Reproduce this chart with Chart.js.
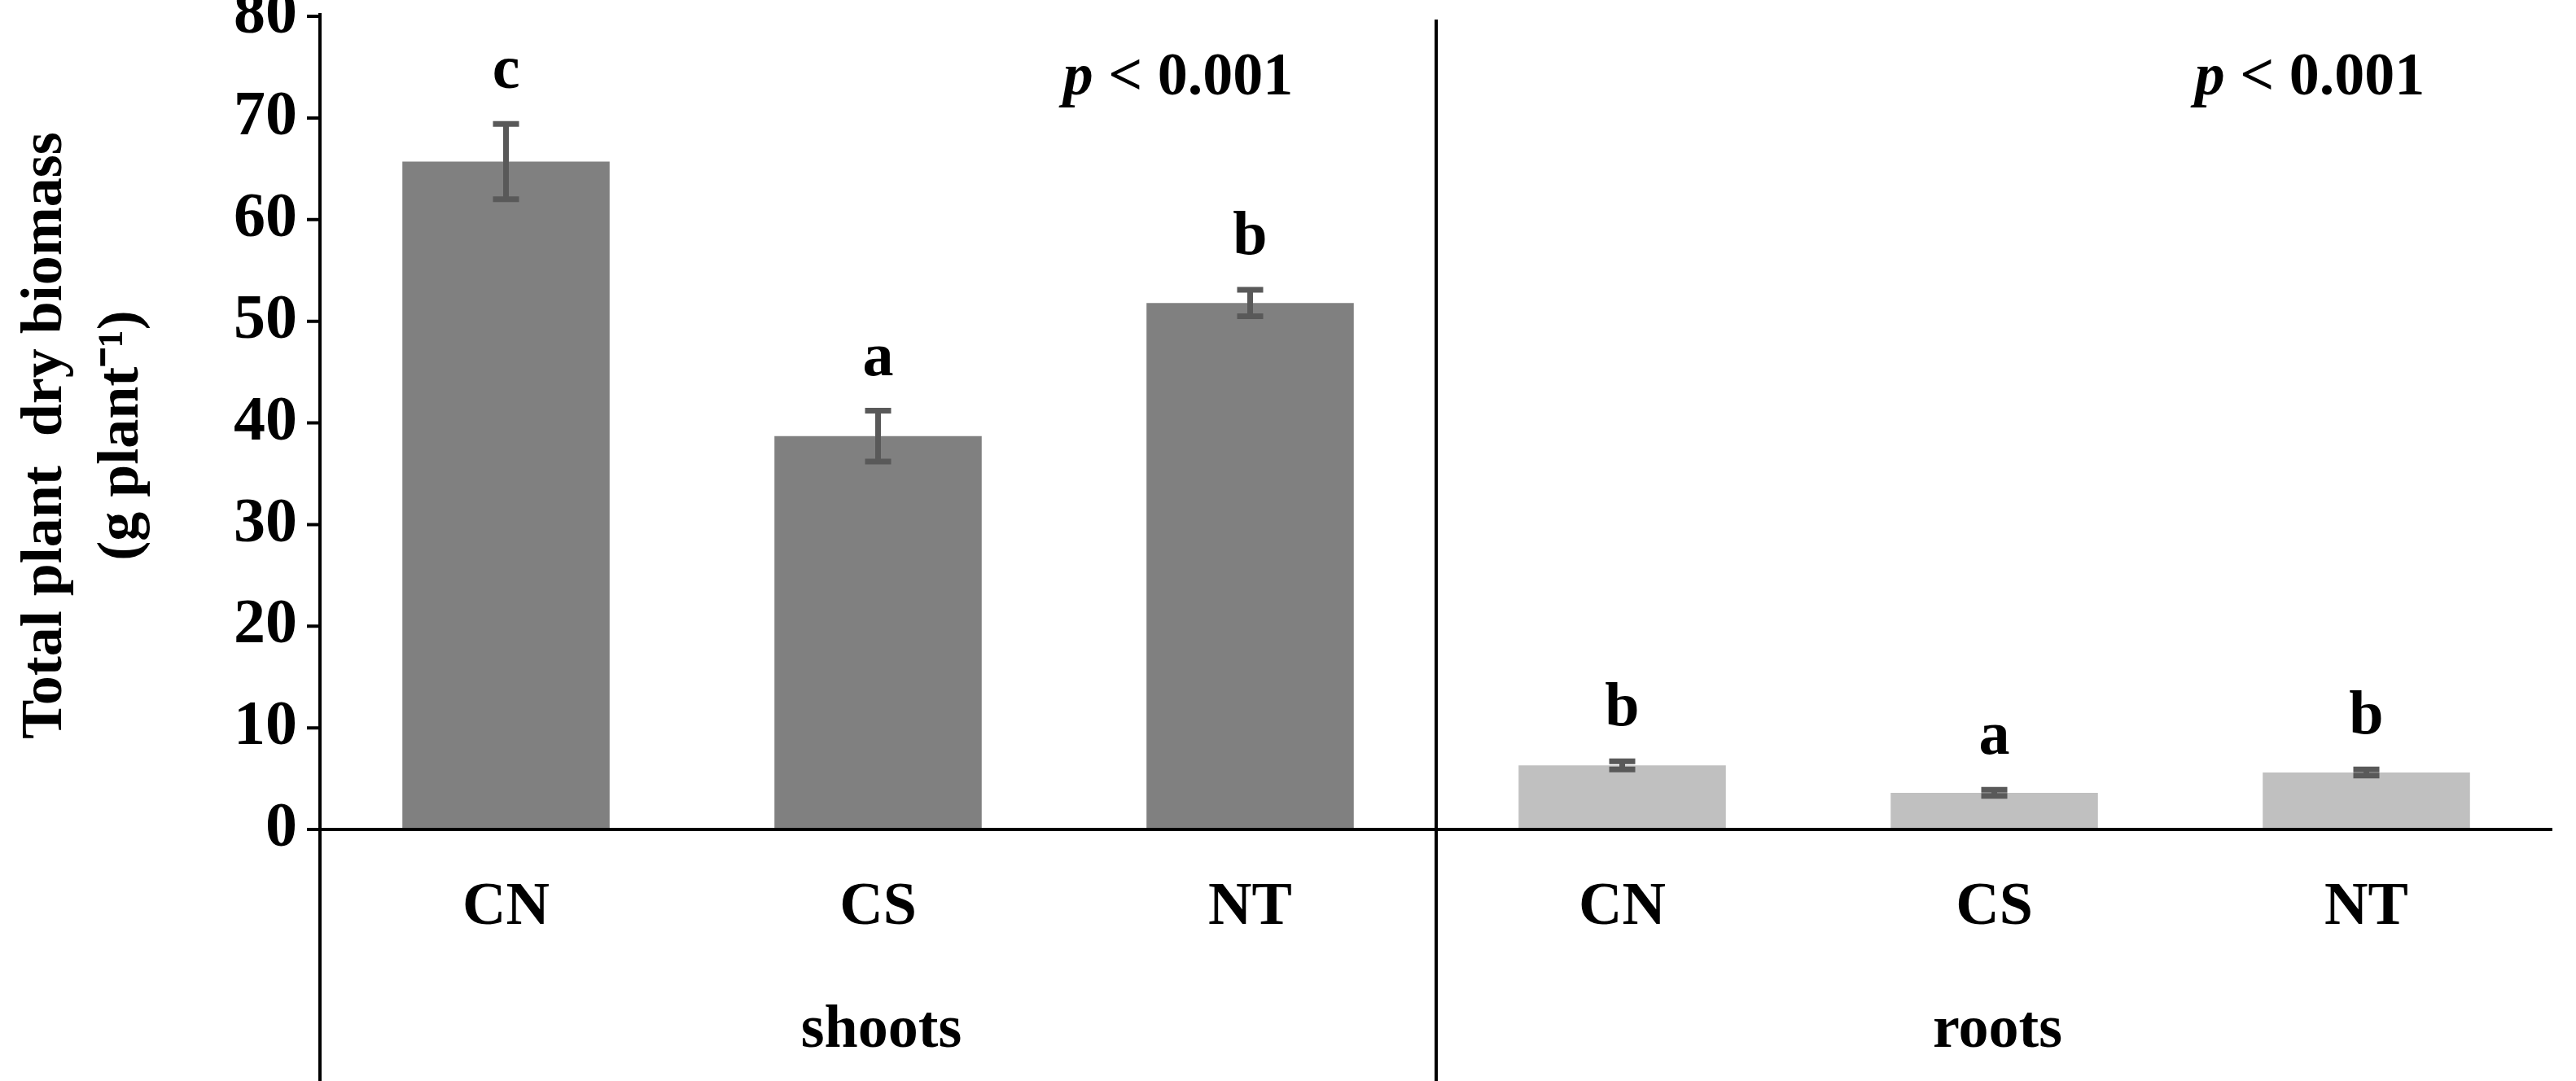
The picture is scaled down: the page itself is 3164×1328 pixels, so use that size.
<!DOCTYPE html>
<html>
<head>
<meta charset="utf-8">
<script src="https://cdn.jsdelivr.net/npm/chart.js@4.4.1/dist/chart.umd.min.js"></script>
<style>
  body { margin: 0; background: white; }
  #wrap { width: 3164px; height: 1328px; }
</style>
</head>
<body>
<div id="wrap"><canvas id="myChart"></canvas></div>
<script>
// data
const categories = ["CN", "CS", "NT", "CN", "CS", "NT"];
const groups = ["shoots", "roots"];
const biomass = [65.7, 38.7, 51.8, 6.3, 3.6, 5.6];
const errors = [3.7, 2.5, 1.3, 0.4, 0.3, 0.3];
const letters = ["c", "a", "b", "b", "a", "b"];
const pLabels = ["< 0.001", "< 0.001"];
const yTicks = [0, 10, 20, 30, 40, 50, 60, 70, 80];

const font = "'Liberation Serif', 'Times New Roman', serif";
const colors = ["#808080", "#808080", "#808080", "#c0c0c0", "#c0c0c0", "#c0c0c0"];

const extras = {
  id: "extras",
  afterDatasetsDraw(chart) {
    const ctx = chart.ctx;
    const x = chart.scales.x, y = chart.scales.y;
    const area = chart.chartArea;
    const H = chart.height;
    ctx.save();

    // error bars
    ctx.strokeStyle = "#595959";
    ctx.lineWidth = 7;
    biomass.forEach((v, i) => {
      const cx = x.getPixelForValue(i);
      const t = y.getPixelForValue(v + errors[i]);
      const b = y.getPixelForValue(v - errors[i]);
      ctx.beginPath();
      ctx.moveTo(cx, t); ctx.lineTo(cx, b);
      ctx.moveTo(cx - 16, t); ctx.lineTo(cx + 16, t);
      ctx.moveTo(cx - 16, b); ctx.lineTo(cx + 16, b);
      ctx.stroke();
    });

    // letters
    ctx.fillStyle = "#000";
    ctx.font = "bold 76px " + font;
    ctx.textAlign = "center";
    ctx.textBaseline = "alphabetic";
    biomass.forEach((v, i) => {
      const cx = x.getPixelForValue(i);
      ctx.fillText(letters[i], cx, y.getPixelForValue(v + errors[i]) - 44);
    });

    // axis lines
    ctx.strokeStyle = "#000";
    ctx.lineWidth = 4;
    const mid = (x.getPixelForValue(2) + x.getPixelForValue(3)) / 2;
    ctx.beginPath();
    ctx.moveTo(area.left, area.top - 4); ctx.lineTo(area.left, H);
    ctx.moveTo(area.left, area.bottom); ctx.lineTo(area.right, area.bottom);
    ctx.moveTo(mid, 24); ctx.lineTo(mid, H);
    yTicks.forEach(t => {
      const py = y.getPixelForValue(t);
      ctx.moveTo(area.left - 16, py); ctx.lineTo(area.left, py);
    });
    ctx.stroke();

    // category and group labels
    ctx.font = "bold 74px " + font;
    ctx.textBaseline = "middle";
    categories.forEach((c, i) => ctx.fillText(c, x.getPixelForValue(i), 1116));
    const gx = [(area.left + mid) / 2, (mid + area.right) / 2];
    groups.forEach((g, i) => ctx.fillText(g, gx[i] + 4, 1267));

    // p values
    const px = [1447, 2837];
    pLabels.forEach((p, i) => {
      ctx.font = "bold 74px " + font;
      const w2 = ctx.measureText(" " + p).width;
      ctx.font = "italic bold 74px " + font;
      const w1 = ctx.measureText("p").width;
      const start = px[i] - (w1 + w2) / 2;
      ctx.textAlign = "left";
      ctx.fillText("p", start, 97);
      ctx.font = "bold 74px " + font;
      ctx.fillText(" " + p, start + w1, 97);
      ctx.textAlign = "center";
    });

    // y title
    ctx.translate(0, 535);
    ctx.rotate(-Math.PI / 2);
    ctx.font = "bold 72px " + font;
    ctx.fillText("Total plant  dry biomass", 0, 56);
    ctx.fillText("(g plant\u207B\u00B9)", 0, 150);
    ctx.restore();
  }
};

new Chart(document.getElementById("myChart"), {
  type: "bar",
  data: {
    labels: categories.map((c, i) => c + i),
    datasets: [{
      data: biomass,
      backgroundColor: colors,
      barPercentage: 1,
      categoryPercentage: 0.557
    }]
  },
  options: {
    responsive: true,
    maintainAspectRatio: false,
    animation: false,
    devicePixelRatio: 1,
    layout: { padding: { top: 20, right: 29, bottom: 309, left: 0 } },
    plugins: { legend: { display: false }, tooltip: { enabled: false } },
    scales: {
      x: { display: false },
      y: {
        min: 0, max: 80,
        afterFit: s => { s.width = 393; s.paddingTop = 0; },
        afterBuildTicks: s => { s.ticks = yTicks.map(v => ({ value: v })); },
        grid: { display: false, drawTicks: false },
        border: { display: false },
        ticks: { color: "#000", padding: 28, font: { family: font, size: 78, weight: "bold" } }
      }
    }
  },
  plugins: [extras]
});
</script>
</body>
</html>
